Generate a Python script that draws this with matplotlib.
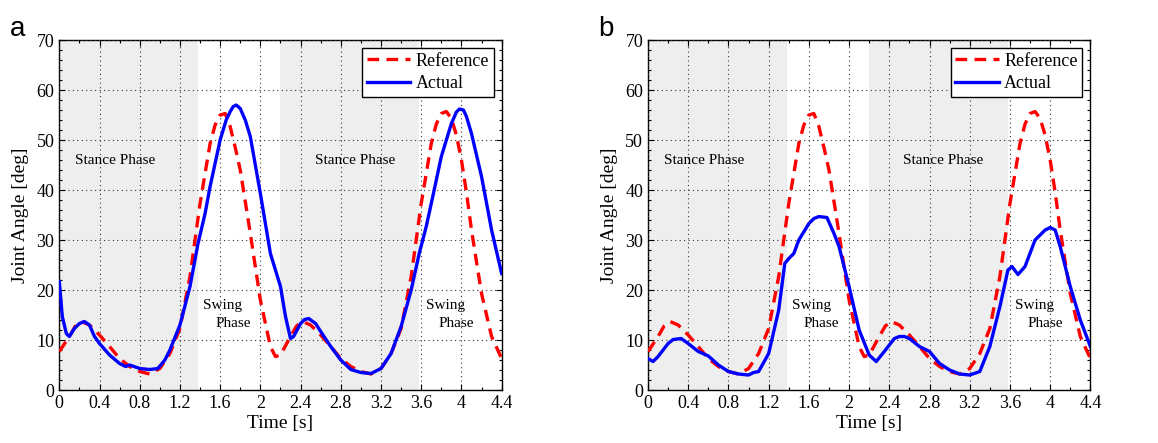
import matplotlib.pyplot as plt
from matplotlib.ticker import MultipleLocator

# =========================
# DATA
# =========================

ref_t = [0.0, 0.1, 0.16, 0.22, 0.3, 0.4, 0.5, 0.6, 0.7, 0.8, 0.9, 1.0, 1.1, 1.2, 1.3,
         1.4, 1.5, 1.55, 1.6, 1.65, 1.7, 1.75, 1.8, 1.85, 1.9, 2.0, 2.1, 2.15, 2.2,
         2.3, 2.36, 2.42, 2.5, 2.6, 2.7, 2.8, 2.9, 3.0, 3.1, 3.2, 3.3, 3.4, 3.5,
         3.6, 3.7, 3.75, 3.8, 3.85, 3.9, 3.95, 4.0, 4.05, 4.1, 4.2, 4.3, 4.4]
ref_angle = [7.7, 10.7, 12.8, 13.7, 13.0, 11.0, 8.7, 6.3, 4.7, 3.7, 3.2, 4.3, 7.3, 12.3, 22.7,
             37.3, 49.3, 53.0, 55.0, 55.3, 52.7, 48.5, 44.0, 37.7, 31.3, 18.0, 8.7, 6.7, 7.0,
             10.7, 12.8, 13.7, 13.0, 11.0, 8.7, 6.3, 4.7, 3.7, 3.2, 4.3, 7.3, 12.3, 22.7,
             37.3, 49.3, 53.2, 55.3, 55.7, 54.3, 51.0, 46.0, 39.5, 32.0, 19.3, 10.7, 6.3]

a_t = [0.0, 0.03, 0.07, 0.1, 0.15, 0.2, 0.25, 0.3, 0.35, 0.4, 0.5, 0.6, 0.66, 0.7, 0.8,
       0.9, 0.98, 1.05, 1.1, 1.2, 1.3, 1.38, 1.45, 1.5, 1.6, 1.66, 1.7, 1.73, 1.76, 1.8,
       1.85, 1.9, 2.0, 2.1, 2.2, 2.25, 2.3, 2.33, 2.4, 2.44, 2.48, 2.55, 2.6, 2.7, 2.8,
       2.9, 3.0, 3.1, 3.2, 3.3, 3.4, 3.5, 3.58, 3.65, 3.7, 3.8, 3.9, 3.95, 3.98, 4.02,
       4.05, 4.1, 4.2, 4.3, 4.4]
a_angle = [21.7, 14.7, 11.3, 10.7, 12.3, 13.3, 13.7, 13.0, 10.7, 9.3, 7.0, 5.3, 4.7, 5.0, 4.3,
           4.1, 4.3, 6.0, 8.0, 13.0, 20.7, 29.3, 35.3, 40.7, 50.0, 54.0, 55.7, 56.7, 57.0, 56.3,
           54.0, 50.7, 39.3, 27.3, 20.7, 14.7, 10.3, 10.7, 13.3, 14.1, 14.3, 13.3, 11.7, 8.7, 6.0,
           4.1, 3.5, 3.3, 4.3, 7.3, 12.7, 20.0, 27.3, 32.7, 37.3, 46.7, 53.3, 55.6, 56.2, 56.0,
           54.7, 51.3, 42.7, 32.0, 23.3]

b_t = [0.0, 0.05, 0.1, 0.2, 0.25, 0.33, 0.4, 0.5, 0.6, 0.7, 0.8, 0.9, 1.0, 1.05,
       1.1, 1.2, 1.3, 1.36, 1.4, 1.45, 1.5, 1.6, 1.65, 1.7, 1.78, 1.85, 1.9, 2.0, 2.1,
       2.2, 2.27, 2.35, 2.45, 2.5, 2.55, 2.6, 2.7, 2.8, 2.9, 3.0, 3.1, 3.2, 3.3, 3.4,
       3.5, 3.58, 3.62, 3.68, 3.75, 3.85, 3.95, 4.0, 4.05, 4.1, 4.2, 4.3, 4.4]
b_angle = [6.3, 5.7, 6.7, 9.3, 10.1, 10.3, 9.3, 7.7, 6.8, 5.0, 3.7, 3.2, 3.0, 3.5,
           3.7, 7.3, 16.0, 25.3, 26.3, 27.3, 30.0, 33.3, 34.3, 34.7, 34.5, 31.3, 28.7, 20.7, 12.0,
           7.0, 5.7, 7.7, 10.3, 10.7, 10.7, 10.3, 8.7, 7.7, 5.3, 4.0, 3.2, 3.0, 3.7, 8.7,
           16.7, 24.0, 24.7, 23.1, 24.7, 30.0, 32.0, 32.5, 32.0, 28.7, 20.7, 14.0, 8.7]

x_ticks = [0, 0.4, 0.8, 1.2, 1.6, 2.0, 2.4, 2.8, 3.2, 3.6, 4.0, 4.4]
x_labels = ["0", "0.4", "0.8", "1.2", "1.6", "2", "2.4", "2.8", "3.2", "3.6", "4", "4.4"]

stance_spans = [(0.0, 1.38), (2.2, 3.58)]
stance_x = [0.56, 2.94]
swing_x = [1.43, 3.65]

panels = [("a", a_t, a_angle), ("b", b_t, b_angle)]

# =========================
# FIGURE
# =========================

plt.rcParams["font.family"] = "Liberation Serif"
plt.rcParams["xtick.direction"] = "in"
plt.rcParams["ytick.direction"] = "in"

fig = plt.figure(figsize=(11.58, 4.43), dpi=100)
lefts = [0.0512, 0.5596]
width = 0.382
bottom = 0.1196
height = 0.790

for i, (letter, t, angle) in enumerate(panels):
    ax = fig.add_axes([lefts[i], bottom, width, height])

    for s0, s1 in stance_spans:
        ax.axvspan(s0, s1, color="#eeeeee", lw=0, zorder=0)

    ax.plot(ref_t, ref_angle, color="#ff0000", lw=2.4, ls=(0, (3.5, 2.2)),
            label="Reference", zorder=3)
    ax.plot(t, angle, color="#0000ff", lw=2.4, label="Actual", zorder=4,
            solid_joinstyle="round")

    ax.set_xlim(0, 4.4)
    ax.set_ylim(0, 70)
    ax.set_xticks(x_ticks)
    ax.set_xticklabels(x_labels)
    ax.xaxis.set_minor_locator(MultipleLocator(0.2))
    ax.yaxis.set_major_locator(MultipleLocator(10))
    ax.yaxis.set_minor_locator(MultipleLocator(2))
    ax.tick_params(which="both", top=True, right=True, labelsize=13,
                   colors="black", width=0.8)
    ax.tick_params(which="major", length=4)
    ax.tick_params(which="minor", length=2)
    ax.grid(True, which="major", ls=(0, (1, 3)), color="#333333", lw=0.8)
    ax.set_axisbelow(False)
    for sp in ax.spines.values():
        sp.set_linewidth(1.0)

    ax.set_xlabel("Time [s]", fontsize=14, labelpad=2)
    ax.set_ylabel("Joint Angle [deg]", fontsize=14, labelpad=5)

    for sx in stance_x:
        ax.text(sx, 46, "Stance Phase", fontsize=11, ha="center", va="center")
    for wx in swing_x:
        ax.text(wx, 17, "Swing", fontsize=11, ha="left", va="center")
        ax.text(wx + 0.12, 13.3, "Phase", fontsize=11, ha="left", va="center")

    leg = ax.legend(loc="upper right", fontsize=13, fancybox=False,
                    framealpha=1, edgecolor="black", borderpad=0.25,
                    handlelength=2.4, handletextpad=0.3, labelspacing=0.3,
                    borderaxespad=0.45)
    leg.get_frame().set_linewidth(1.0)

    fig.text(lefts[i] - 0.043, 0.965, letter, fontsize=20,
             family="Liberation Sans", ha="left", va="top")

fig.savefig("out.png", dpi=100)
